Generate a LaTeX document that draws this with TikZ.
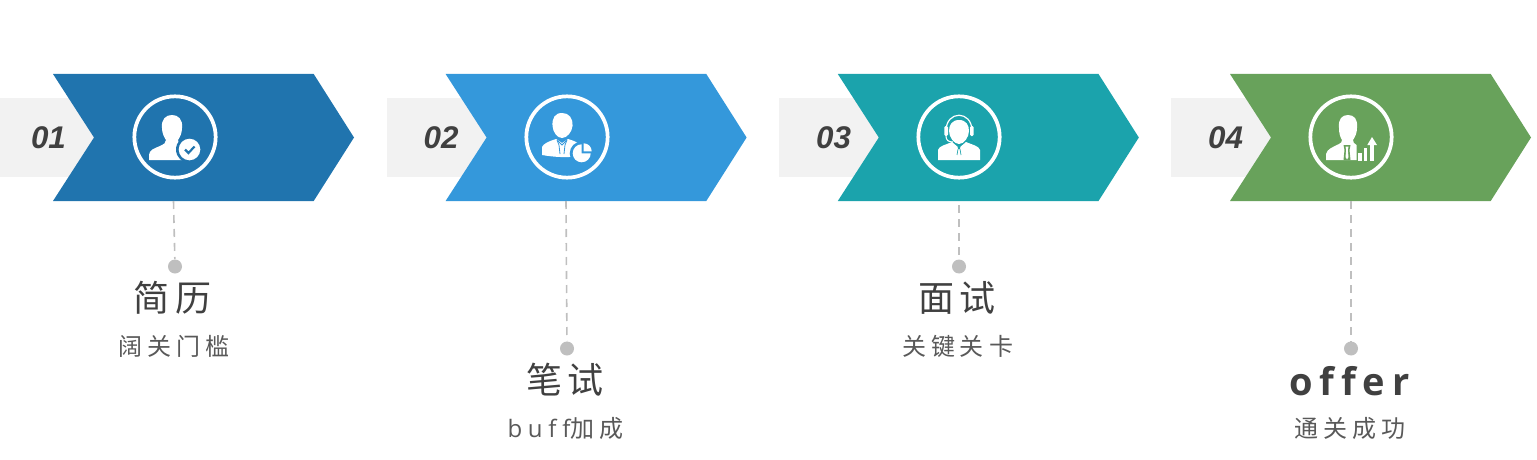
\documentclass[tikz,border=0pt]{standalone}
\usepackage{fontspec}
\setmainfont{Liberation Sans}
\newfontfamily\cjk{Noto Sans CJK SC}
\newfontfamily\numfont{Liberation Sans}
\newfontfamily\offerfont[LetterSpace=18,Ligatures=NoCommon]{Open Sans}
\newfontfamily\bufffont[LetterSpace=24,Ligatures=NoCommon]{Open Sans}
\definecolor{cA}{HTML}{2074AE}
\definecolor{cB}{HTML}{3498DB}
\definecolor{cC}{HTML}{1BA3AC}
\definecolor{cD}{HTML}{68A25B}
\definecolor{bandgrey}{HTML}{F2F2F2}
\definecolor{dotgrey}{HTML}{BFBFBF}
\definecolor{titletext}{HTML}{404040}
\definecolor{subtext}{HTML}{595959}
\tikzset{
  x=0.75pt,y=-0.75pt,
  leader/.style={draw=dotgrey,line width=1.2pt,dash pattern=on 6pt off 4.5pt},
  leaddot/.style={circle,fill=dotgrey,inner sep=0pt,minimum size=10.5pt},
  numlabel/.style={font=\numfont\bfseries\itshape\fontsize{23.5}{24}\selectfont,text=titletext,inner sep=0pt},
  titlelabel/.style={font=\fontsize{27}{30}\selectfont,text=titletext,inner sep=0pt},
  sublabel/.style={font=\fontsize{18}{20}\selectfont,text=subtext,inner sep=0pt},
  ring/.style={draw=white,line width=2.8pt,circle,inner sep=0pt,minimum size=61pt},
}
\newcommand{\stagechev}[2]{%
  \fill[bandgrey] (#1-6,98) rectangle (#1+94,177);
  \fill[#2] (#1+53,74) -- (#1+313.7,74) -- (#1+354,137.5) -- (#1+313.7,201) -- (#1+53,201) -- (#1+94,137.5) -- cycle;
}
\newcommand{\tg}{\hspace{4.5pt}}
\newcommand{\sg}{\hspace{3.75pt}}
\begin{document}
\begin{tikzpicture}
\useasboundingbox (0,0) rectangle (1537,460);
\begin{scope}
\clip (0,0) rectangle (1537,460);
\stagechev{0}{cA}
\stagechev{392.6}{cB}
\stagechev{784.8}{cC}
\stagechev{1177}{cD}
\end{scope}
\node[numlabel] (n1) at (48.5,137.5) {01};
\node[numlabel] (n2) at (441,137.5) {02};
\node[numlabel] (n3) at (833.5,137.5) {03};
\node[numlabel] (n4) at (1225.5,137.5) {04};
\node[ring] (r1) at (175,137) {};
\node[ring] (r2) at (567,137) {};
\node[ring] (r3) at (959,137) {};
\node[ring] (r4) at (1351,137) {};
% icon 1
\begin{scope}[shift={(r1.center)}]
\fill[white] (-26,23) -- (-26,18) .. controls (-26,13) and (-20,11) .. (-15,9) .. controls (-11,7) and (-9,6) .. (-9,3) .. controls (-11,0) and (-13,-4) .. (-13,-9) .. controls (-14,-18) and (-9,-22) .. (-3,-22) .. controls (3,-22) and (8,-18) .. (7,-9) .. controls (7,-4) and (5,0) .. (3,3) .. controls (3,6) and (6,8) .. (12,10) -- (12,23) -- cycle;
\fill[cA] (14.5,12.5) circle[radius=13.5];
\fill[white] (14.5,12.5) circle[radius=10.8];
\draw[cA,line width=1.6pt] (10,12.5) -- (13.5,16) -- (19.5,9.5);
\end{scope}
% icon 2
\begin{scope}[shift={(r2.center)}]
\fill[white] (-5,-24) .. controls (2,-24) and (6,-19) .. (5.5,-11) .. controls (5,-5) and (0,1) .. (-5,1) .. controls (-10,1) and (-14,-5) .. (-14.5,-11) .. controls (-15,-19) and (-12,-24) .. (-5,-24) -- cycle;
\fill[white] (-25,18) -- (-25,10) .. controls (-24,7) and (-18,4) .. (-11,2) -- (-5,6) -- (1,2) .. controls (8,4) and (12,6) .. (14,9) -- (14,19) .. controls (0,21) and (-14,20) .. (-25,18) -- cycle;
\draw[cB,line width=0.6pt] (-10,3) -- (-8,8) -- (-7,17) (0,3) -- (-2,8) -- (-3,17);
\draw[cB,line width=0.6pt] (-9.5,3.5) -- (-5,8) -- (-0.5,3.5);
\fill[cB] (14.7,16.5) circle[radius=12];
\fill[white] (14.7,16.3) -- (14.7,7.3) arc[start angle=-90,end angle=-360,radius=9] -- cycle;
\fill[white] (16.7,14.3) -- (16.7,6.3) arc[start angle=-90,end angle=0,radius=8] -- cycle;
\end{scope}
% icon 3
\begin{scope}[shift={(r3.center)}]
\fill[white] (0,-17) .. controls (7,-17) and (10,-12) .. (10,-6) .. controls (10,0) and (5,7) .. (0,7) .. controls (-5,7) and (-10,0) .. (-10,-6) .. controls (-10,-12) and (-7,-17) .. (0,-17) -- cycle;
\draw[white,line width=0.9pt] (-13,-6) .. controls (-13,-27) and (13,-27) .. (13,-6);
\fill[white,rounded corners=1pt] (-14.7,-11) rectangle (-11,-1);
\fill[white,rounded corners=1pt] (11,-11) rectangle (14.7,-1);
\draw[white,line width=0.8pt] (-13,-1) .. controls (-13,3) and (-11,5) .. (-6,5);
\fill[white] (-21,23) -- (-21,13) .. controls (-20,9) and (-14,8) .. (-7,5) -- (0,11) -- (7,5) .. controls (14,8) and (20,9) .. (21,13) -- (21,23) -- cycle;
\fill[cC] (-1.5,9.5) -- (1.5,9.5) -- (0.8,12) -- (-0.8,12) -- cycle;
\draw[cC,line width=0.5pt] (-1,12) -- (-2,18) (1,12) -- (2,18);
\end{scope}
% icon 4
\begin{scope}[shift={(r4.center)}]
\fill[white] (-25,23) -- (-25,17) .. controls (-24,12) and (-18,10) .. (-12,7) .. controls (-10,6) and (-9,5) .. (-9,3) .. controls (-11,0) and (-12,-4) .. (-12,-9) .. controls (-13,-18) and (-9,-22) .. (-3,-22) .. controls (3,-22) and (7,-18) .. (6,-9) .. controls (6,-4) and (4,0) .. (2,3) .. controls (2,5) and (3,7) .. (5.5,8) -- (5.5,23) -- cycle;
\fill[cD] (-7.5,8) -- (-0.5,8) -- (-1.5,13) -- (-0.5,23) -- (-7.5,23) -- (-6.5,13) -- cycle;
\fill[white] (-5.5,9.5) -- (-2.5,9.5) -- (-3.2,13) -- (-2.5,20) -- (-4,22.5) -- (-5.5,20) -- (-4.8,13) -- cycle;
\fill[white] (7.3,16) rectangle (10.7,23.5);
\fill[white] (13,11) rectangle (16.3,23.5);
\fill[white] (19,8) rectangle (23,23.5);
\fill[white] (21,0) -- (16.3,8) -- (26,8) -- cycle;
\end{scope}
% leaders
\coordinate (t1) at (173.5,201);
\coordinate (t2) at (566,201);
\coordinate (t3) at (959,205);
\coordinate (t4) at (1351,201);
\node[leaddot] (d1) at (175,266.5) {};
\node[leaddot] (d2) at (567,348.5) {};
\node[leaddot] (d3) at (959,266.5) {};
\node[leaddot] (d4) at (1351,348.5) {};
\draw[leader] (t1) -- (d1);
\draw[leader] (t2) -- (d2);
\draw[leader] (t3) -- (d3);
\draw[leader] (t4) -- (d4);
% labels
\node[titlelabel] (a1) at (172.5,298) {\cjk 简\tg 历};
\node[sublabel] (b1) at (174,346) {\cjk 阔\sg 关\sg 门\sg 槛};
\node[titlelabel] (a2) at (565,380) {\cjk 笔\tg 试};
\node[sublabel] (b2) at (565.5,428) {{\bufffont buff}{\cjk 加\sg 成}};
\node[titlelabel] (a3) at (957,298) {\cjk 面\tg 试};
\node[sublabel] (b3) at (957.5,346) {\cjk 关\sg 键\sg 关\sg 卡};
\node[titlelabel,font=\offerfont\bfseries\fontsize{28.5}{30}\selectfont] (a4) at (1349.5,381) {offer};
\node[sublabel] (b4) at (1349.5,428) {\cjk 通\sg 关\sg 成\sg 功};
\end{tikzpicture}
\end{document}
